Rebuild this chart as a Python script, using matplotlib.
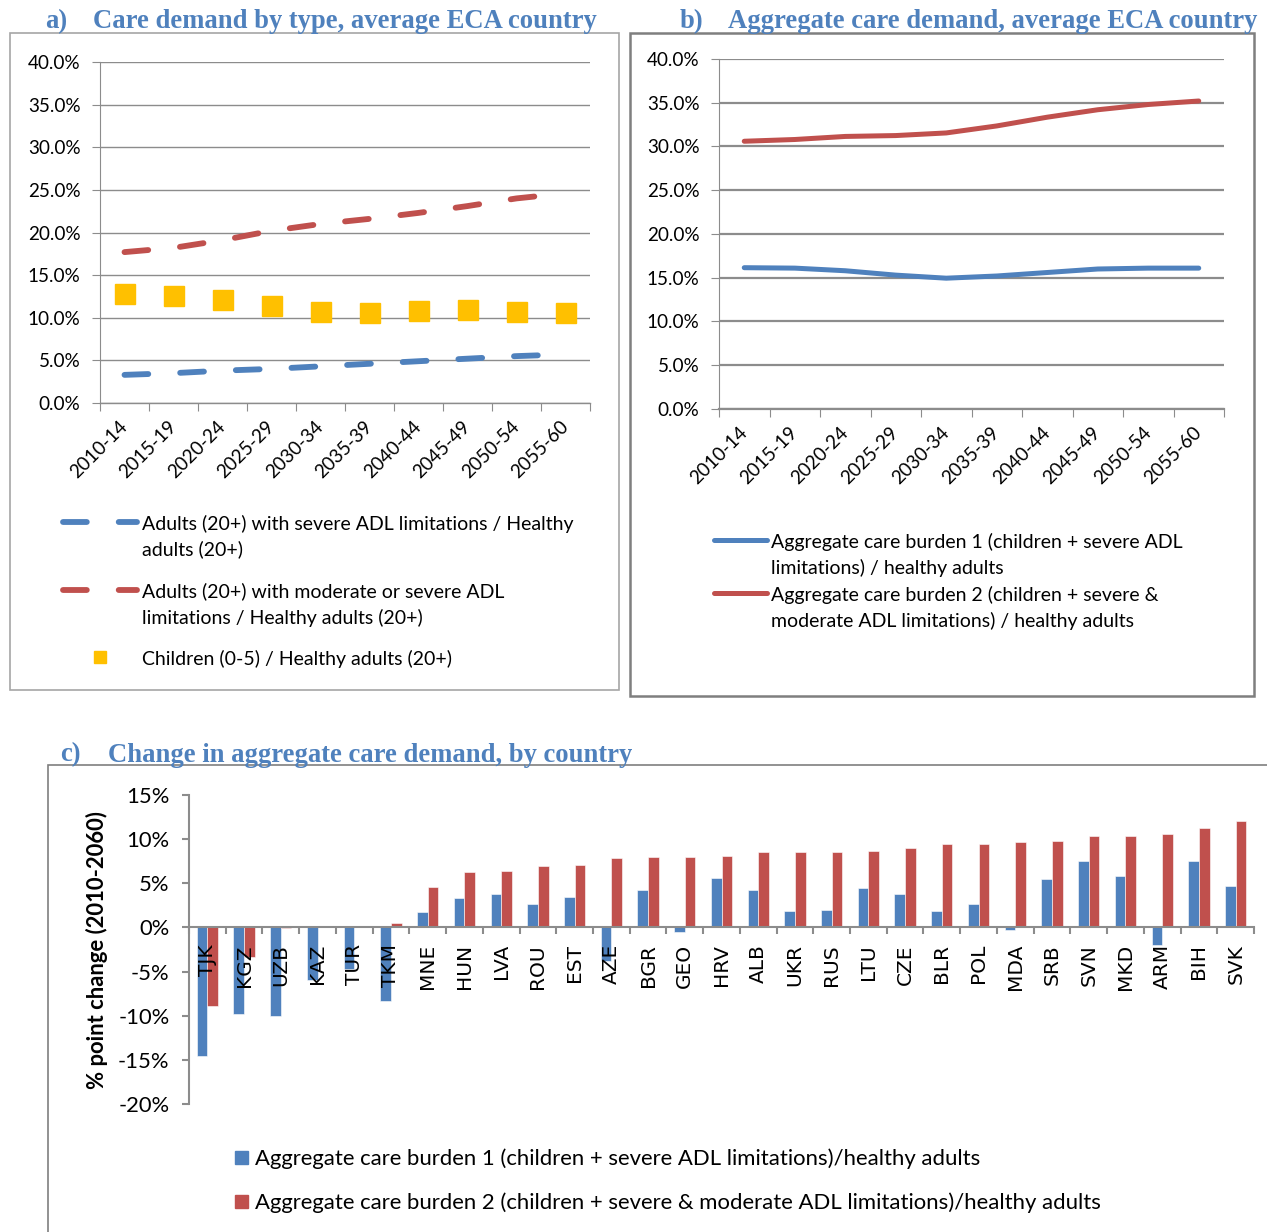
import matplotlib.pyplot as plt
import numpy as np
from matplotlib.patches import Rectangle
from matplotlib.lines import Line2D
from matplotlib.ticker import FuncFormatter

# ---- data ----
periods = ["2010-14", "2015-19", "2020-24", "2025-29", "2030-34",
           "2035-39", "2040-44", "2045-49", "2050-54", "2055-60"]

severe_adl = [3.3, 3.5, 3.8, 4.0, 4.3, 4.6, 4.9, 5.2, 5.5, 5.7]
moderate_severe_adl = [17.7, 18.2, 19.1, 20.2, 21.0, 21.6, 22.3, 23.1, 24.0, 24.6]
children = [12.8, 12.6, 12.1, 11.4, 10.7, 10.6, 10.8, 10.9, 10.7, 10.5]

burden1 = [16.15, 16.1, 15.8, 15.3, 14.95, 15.2, 15.6, 16.0, 16.1, 16.1]
burden2 = [30.6, 30.8, 31.15, 31.25, 31.55, 32.35, 33.35, 34.2, 34.8, 35.2]

countries = ["TJK", "KGZ", "UZB", "KAZ", "TUR", "TKM", "MNE", "HUN", "LVA", "ROU",
             "EST", "AZE", "BGR", "GEO", "HRV", "ALB", "UKR", "RUS", "LTU", "CZE",
             "BLR", "POL", "MDA", "SRB", "SVN", "MKD", "ARM", "BIH", "SVK"]
change1 = [-14.6, -9.8, -10.0, -5.9, -4.7, -8.3, 1.8, 3.3, 3.8, 2.6,
           3.5, -3.8, 4.2, -0.55, 5.6, 4.2, 1.85, 2.0, 4.5, 3.8,
           1.9, 2.6, -0.3, 5.5, 7.5, 5.85, -1.95, 7.55, 4.7]
change2 = [-8.85, -3.3, -0.05, 0.0, 0.1, 0.5, 4.6, 6.3, 6.4, 6.95,
           7.1, 7.9, 8.0, 8.0, 8.1, 8.55, 8.55, 8.6, 8.7, 8.95,
           9.4, 9.45, 9.65, 9.75, 10.4, 10.4, 10.55, 11.25, 12.0]

labels_a = ["Adults (20+) with severe ADL limitations / Healthy\nadults (20+)",
            "Adults (20+) with moderate or severe ADL\nlimitations / Healthy adults (20+)",
            "Children (0-5) / Healthy adults (20+)"]
labels_b = ["Aggregate care burden 1 (children + severe ADL\nlimitations) / healthy adults",
            "Aggregate care burden 2 (children + severe &\nmoderate ADL limitations) / healthy adults"]
labels_c = ["Aggregate care burden 1 (children + severe ADL limitations)/healthy adults",
            "Aggregate care burden 2 (children + severe & moderate ADL limitations)/healthy adults"]

BLUE = "#4F81BD"
RED = "#C0504D"
YELLOW = "#FFC000"
GRID = "#8C8C8C"
TITLE_C = "#4F81BD"

plt.rcParams["font.family"] = ["Lato", "DejaVu Sans"]

W, H = 1267, 1232
fig = plt.figure(figsize=(W / 100, H / 100), dpi=100)


def fx(x):
    return x / W


def fy(y):
    return 1 - y / H


def px_axes(x0, y0, x1, y1):
    return fig.add_axes([fx(x0), fy(y1), (x1 - x0) / W, (y1 - y0) / H])


def px_box(x0, y0, x1, y1, color, lw):
    fig.patches.append(Rectangle((fx(x0), fy(y1)), (x1 - x0) / W, (y1 - y0) / H,
                                 transform=fig.transFigure, fill=False,
                                 edgecolor=color, linewidth=lw, clip_on=False))


def px_title(x, y, letter, text):
    fig.text(fx(x), fy(y), letter, fontsize=19.2, fontweight="bold",
             family="Liberation Serif", color=TITLE_C, va="center_baseline")
    fig.text(fx(x + 48), fy(y), text, fontsize=19.2, fontweight="bold",
             family="Liberation Serif", color=TITLE_C, va="center_baseline")


def legend_text(x, y_first, text, size=14, spacing=26):
    # one text per legend line, first line centred on y_first
    lines = text.split("\n")
    for i, line in enumerate(lines):
        fig.text(fx(x), fy(y_first + i * spacing), line, fontsize=size,
                 va="center_baseline", ha="left")


def legend_line(x0, x1, y, color, **kw):
    fig.add_artist(Line2D([fx(x0), fx(x1)], [fy(y), fy(y)], color=color,
                          transform=fig.transFigure, **kw))


def style_line_axes(ax, lw_grid):
    x = np.arange(len(periods))
    ax.set_xlim(-0.5, len(periods) - 0.5)
    ax.set_ylim(0, 40)
    ax.set_yticks(np.arange(0, 41, 5))
    ax.yaxis.set_major_formatter(FuncFormatter(lambda v, p: f"{v:.1f}%"))
    ax.grid(axis="y", color=GRID, linewidth=lw_grid)
    ax.set_axisbelow(True)
    ax.set_xticks(np.arange(-0.5, len(periods)), labels=[])
    ax.set_xticks(x, labels=periods, minor=True)
    ax.tick_params(axis="x", which="major", length=6, color=GRID, direction="out")
    ax.tick_params(axis="x", which="minor", length=0, pad=15, labelsize=13.6)
    ax.tick_params(axis="y", length=6, color=GRID, labelsize=13.6, pad=8)
    for lab in ax.get_xticklabels(minor=True):
        lab.set_rotation(45)
        lab.set_ha("right")
        lab.set_va("center")
        lab.set_rotation_mode("anchor")
    for s in ["top", "right"]:
        ax.spines[s].set_visible(False)
    ax.spines["left"].set_color(GRID)
    ax.spines["bottom"].set_color(GRID)
    ax.spines["bottom"].set_linewidth(lw_grid)


# ---- panel a ----
px_box(10, 33, 619, 690, "#A6A6A6", 1.2)
px_title(45, 19, "a)", "Care demand by type, average ECA country")
ax1 = px_axes(100, 62, 590, 403)
style_line_axes(ax1, 1.0)
xa = np.arange(len(periods))
dash = (4.08, 5.47)
ax1.plot(xa, severe_adl, color=BLUE, lw=4.2, dashes=dash, dash_capstyle="round")
ax1.plot(xa, moderate_severe_adl, color=RED, lw=4.2, dashes=dash, dash_capstyle="round")
ax1.plot(xa, children, ls="none", marker="s", ms=14, color=YELLOW, mec=YELLOW)

legend_line(63, 137, 522, BLUE, lw=4.2, dashes=dash, dash_capstyle="round")
legend_text(142, 522, labels_a[0])
legend_line(63, 137, 590, RED, lw=4.2, dashes=dash, dash_capstyle="round")
legend_text(142, 590, labels_a[1])
fig.add_artist(Line2D([fx(100)], [fy(657)], ls="none", marker="s", ms=9,
                      color=YELLOW, transform=fig.transFigure))
legend_text(142, 657, labels_a[2])

# ---- panel b ----
px_box(630, 33, 1254, 696, "#7F7F7F", 1.8)
px_title(680, 19, "b)", "Aggregate care demand, average ECA country")
ax2 = px_axes(719, 59, 1224, 409)
style_line_axes(ax2, 1.6)
ax2.plot(xa, burden1, color=BLUE, lw=3.6, solid_capstyle="round")
ax2.plot(xa, burden2, color=RED, lw=3.6, solid_capstyle="round")

legend_line(714, 767, 540, BLUE, lw=3.6, solid_capstyle="round")
legend_text(771, 540, labels_b[0])
legend_line(714, 767, 593, RED, lw=3.6, solid_capstyle="round")
legend_text(771, 593, labels_b[1])

# ---- panel c ----
px_box(48, 765, 1290, 1250, "#7F7F7F", 1.2)
px_title(60, 752, "c)", "Change in aggregate care demand, by country")
ax3 = px_axes(189, 795, 1254, 1104)
xc = np.arange(len(countries))
bw = 0.29
ax3.bar(xc - bw / 2, change1, bw, color=BLUE, edgecolor="white", linewidth=0.4)
ax3.bar(xc + bw / 2, change2, bw, color=RED, edgecolor="white", linewidth=0.4)
ax3.set_xlim(-0.5, len(countries) - 0.5)
ax3.set_ylim(-20, 15)
ax3.set_yticks(np.arange(-20, 16, 5))
ax3.yaxis.set_major_formatter(FuncFormatter(lambda v, p: f"{v:.0f}%".replace("\u2212", "-")))
for s in ["top", "right"]:
    ax3.spines[s].set_visible(False)
ax3.spines["bottom"].set_position(("data", 0))
ax3.spines["bottom"].set_color(GRID)
ax3.spines["left"].set_color(GRID)
ax3.spines["bottom"].set_linewidth(1.5)
ax3.spines["left"].set_linewidth(1.5)
ax3.set_xticks(np.arange(-0.5, len(countries)), labels=[])
ax3.set_xticks(xc, labels=countries, minor=True)
ax3.tick_params(axis="x", which="major", length=5, width=1.5, color=GRID)
ax3.tick_params(axis="x", which="minor", length=0, pad=12, labelsize=14.5, labelrotation=90)
for lab in ax3.get_xticklabels(minor=True):
    lab.set_family("DejaVu Sans")
ax3.tick_params(axis="y", length=5, width=1.5, color=GRID, labelsize=15.8, pad=9)
fig.text(fx(97), fy(950), "% point change (2010-2060)", rotation=90,
         fontsize=15.8, fontweight="bold", ha="center", va="center")

for yy, col, lab in [(1157, BLUE, labels_c[0]), (1201, RED, labels_c[1])]:
    fig.patches.append(Rectangle((fx(235), fy(yy + 6.5)), 13 / W, 13 / H,
                                 transform=fig.transFigure, color=col))
    legend_text(255, yy, lab, size=15.9)

fig.savefig("out.png", dpi=100)
